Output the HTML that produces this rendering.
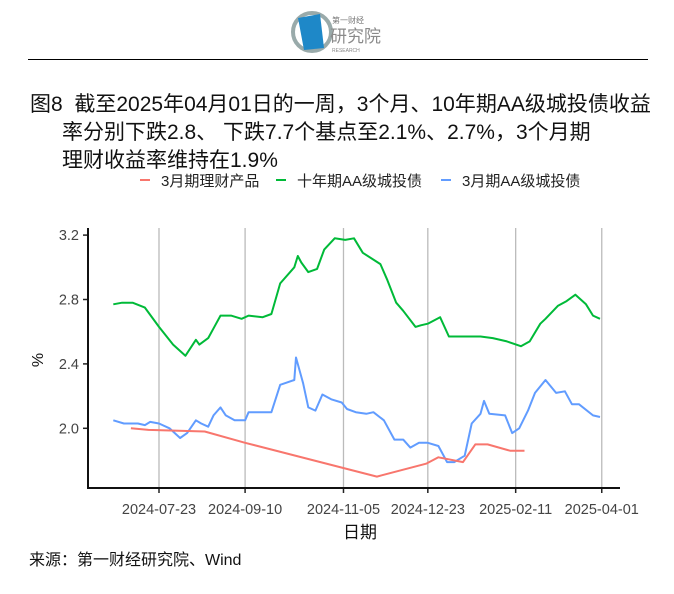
<!DOCTYPE html>
<html><head><meta charset="utf-8">
<style>
body{margin:0;background:#fff;width:674px;height:594px;overflow:hidden;font-family:"Liberation Sans","Noto Sans CJK SC",sans-serif;position:relative}
.t{position:absolute;color:#111;font-size:21px;white-space:nowrap}
</style></head><body>
<svg style="position:absolute;left:290px;top:10px" width="100" height="44">
<circle cx="22" cy="22" r="19" fill="none" stroke="#9aa" stroke-width="4"/>
<path d="M8 8 L30 4 L34 38 L14 40 Z" fill="#1e88c8"/>
<text x="42" y="13" font-size="8" fill="#777" font-family="Noto Sans CJK SC,sans-serif">第一财经</text>
<text x="40" y="32" font-size="17" fill="#8a8a8a" font-family="Noto Sans CJK SC,sans-serif">研究院</text>
<text x="42" y="42" font-size="5" fill="#888">RESEARCH</text>
</svg>
<div style="position:absolute;left:28px;top:59px;width:620px;height:1px;background:#000"></div>
<div class="t" style="left:30px;top:88px">图8&nbsp; 截至2025年04月01日的一周，3个月、10年期AA级城投债收益</div>
<div class="t" style="left:62px;top:116px">率分别下跌2.8、 下跌7.7个基点至2.1%、2.7%，3个月期</div>
<div class="t" style="left:62px;top:144px">理财收益率维持在1.9%</div>
<svg id="c" style="position:absolute;left:0;top:0" width="674" height="594"></svg>
<div style="position:absolute;left:29px;top:546px;font-size:16px;color:#111">来源：第一财经研究院、Wind</div>
<script>
const tickDays=[0,49,105,153,203,252];
const tickLabels=["2024-07-23","2024-09-10","2024-11-05","2024-12-23","2025-02-11","2025-04-01"];
const yTicks=[2.0,2.4,2.8,3.2];
const yTickLabels=["2.0","2.4","2.8","3.2"];
const seriesNames=["3月期理财产品","十年期AA级城投债","3月期AA级城投债"];
const seriesColors=["#f8766d","#00ba38","#619cff"];
const redDays=[-16,-6,26,49,124,152,159,173,180,187,200,208];
const redVals=[2.00,1.99,1.98,1.91,1.70,1.78,1.82,1.79,1.90,1.90,1.86,1.86];
const greenDays=[-26,-21,-15,-8,0,8,15,21,23,28,32,35,41,47,51,59,64,69,77,79,81,85,90,94,100,106,111,116,126,130,135,139,146,149,153,160,165,171,183,190,198,206,211,217,220,227,232,237,243,247,251];
const greenVals=[2.77,2.78,2.78,2.75,2.63,2.52,2.45,2.55,2.52,2.56,2.64,2.70,2.70,2.68,2.70,2.69,2.71,2.90,3.00,3.07,3.03,2.97,2.99,3.11,3.18,3.17,3.18,3.09,3.02,2.92,2.78,2.73,2.63,2.64,2.65,2.69,2.57,2.57,2.57,2.56,2.54,2.51,2.54,2.65,2.68,2.76,2.79,2.83,2.77,2.70,2.68];
const blueDays=[-26,-20,-12,-8,-5,0,6,12,16,21,24,28,31,35,38,43,49,51,57,64,69,77,78,82,85,89,93,98,104,107,112,118,122,128,134,139,143,148,153,159,164,168,174,178,183,185,188,197,201,205,210,214,220,226,231,235,239,247,251];
const blueVals=[2.05,2.03,2.03,2.02,2.04,2.03,2.00,1.94,1.97,2.05,2.03,2.01,2.08,2.13,2.08,2.05,2.05,2.10,2.10,2.10,2.27,2.30,2.44,2.28,2.13,2.11,2.21,2.18,2.16,2.12,2.10,2.09,2.10,2.05,1.93,1.93,1.88,1.91,1.91,1.89,1.79,1.79,1.83,2.03,2.09,2.17,2.09,2.08,1.97,2.00,2.11,2.22,2.30,2.22,2.23,2.15,2.15,2.08,2.07];
const NS="http://www.w3.org/2000/svg",svg=document.getElementById('c');
function X(d){return 159+d*1.757}
function Y(v){return 428.3-(v-2)*161}
function mk(tag,at,txt){const e=document.createElementNS(NS,tag);for(const k in at)e.setAttribute(k,at[k]);if(txt!=null)e.textContent=txt;svg.appendChild(e);return e}
tickDays.forEach((d,i)=>{
 const g=mk('line',{x1:X(d),x2:X(d),y1:228,y2:488,stroke:'#bbb','stroke-width':1.3});
 
 
 const t=mk('line',{x1:X(d),x2:X(d),y1:488,y2:493,stroke:'#222','stroke-width':1.5});
 
 
 const l=mk('text',{x:X(d),y:514,'text-anchor':'middle','font-size':14.5,fill:'#444'},tickLabels[i]);
 
 
});
yTicks.forEach((v,i)=>{
 const t=mk('line',{x1:83,x2:88,y1:Y(v),y2:Y(v),stroke:'#222','stroke-width':1.5});
 
 
 const l=mk('text',{x:79,y:Y(v)+5,'text-anchor':'end','font-size':14.5,fill:'#444'},yTickLabels[i]);
 
 
});
const ax=mk('path',{d:'M88 228 V488 H620',fill:'none',stroke:'#111','stroke-width':2});


const yl=mk('text',{x:0,y:0,transform:'translate(43,360) rotate(-90)','text-anchor':'middle','font-size':16,fill:'#111'},'%');


const xl=mk('text',{x:360,y:538,'text-anchor':'middle','font-size':17,fill:'#111'},'日期');


function line(ds,vs,c,name){
 const p=mk('path',{d:ds.map((d,i)=>(i?'L':'M')+X(d).toFixed(1)+' '+Y(vs[i]).toFixed(1)).join(' '),fill:'none',stroke:c,'stroke-width':2,'stroke-linejoin':'round'});
 
 
}
line(greenDays,greenVals,seriesColors[1],'line-10y-aa-chengtou');
line(blueDays,blueVals,seriesColors[2],'line-3m-aa-chengtou');
line(redDays,redVals,seriesColors[0],'line-3m-wealth-product');
const lx=[140,276,441];
seriesNames.forEach((n,i)=>{
 const s=mk('line',{x1:lx[i],x2:lx[i]+10,y1:180,y2:180,stroke:seriesColors[i],'stroke-width':2});
 
 
 const t=mk('text',{x:lx[i]+21,y:186,'font-size':15,fill:'#222'},n);
 
 
});
</script>
</body></html>
